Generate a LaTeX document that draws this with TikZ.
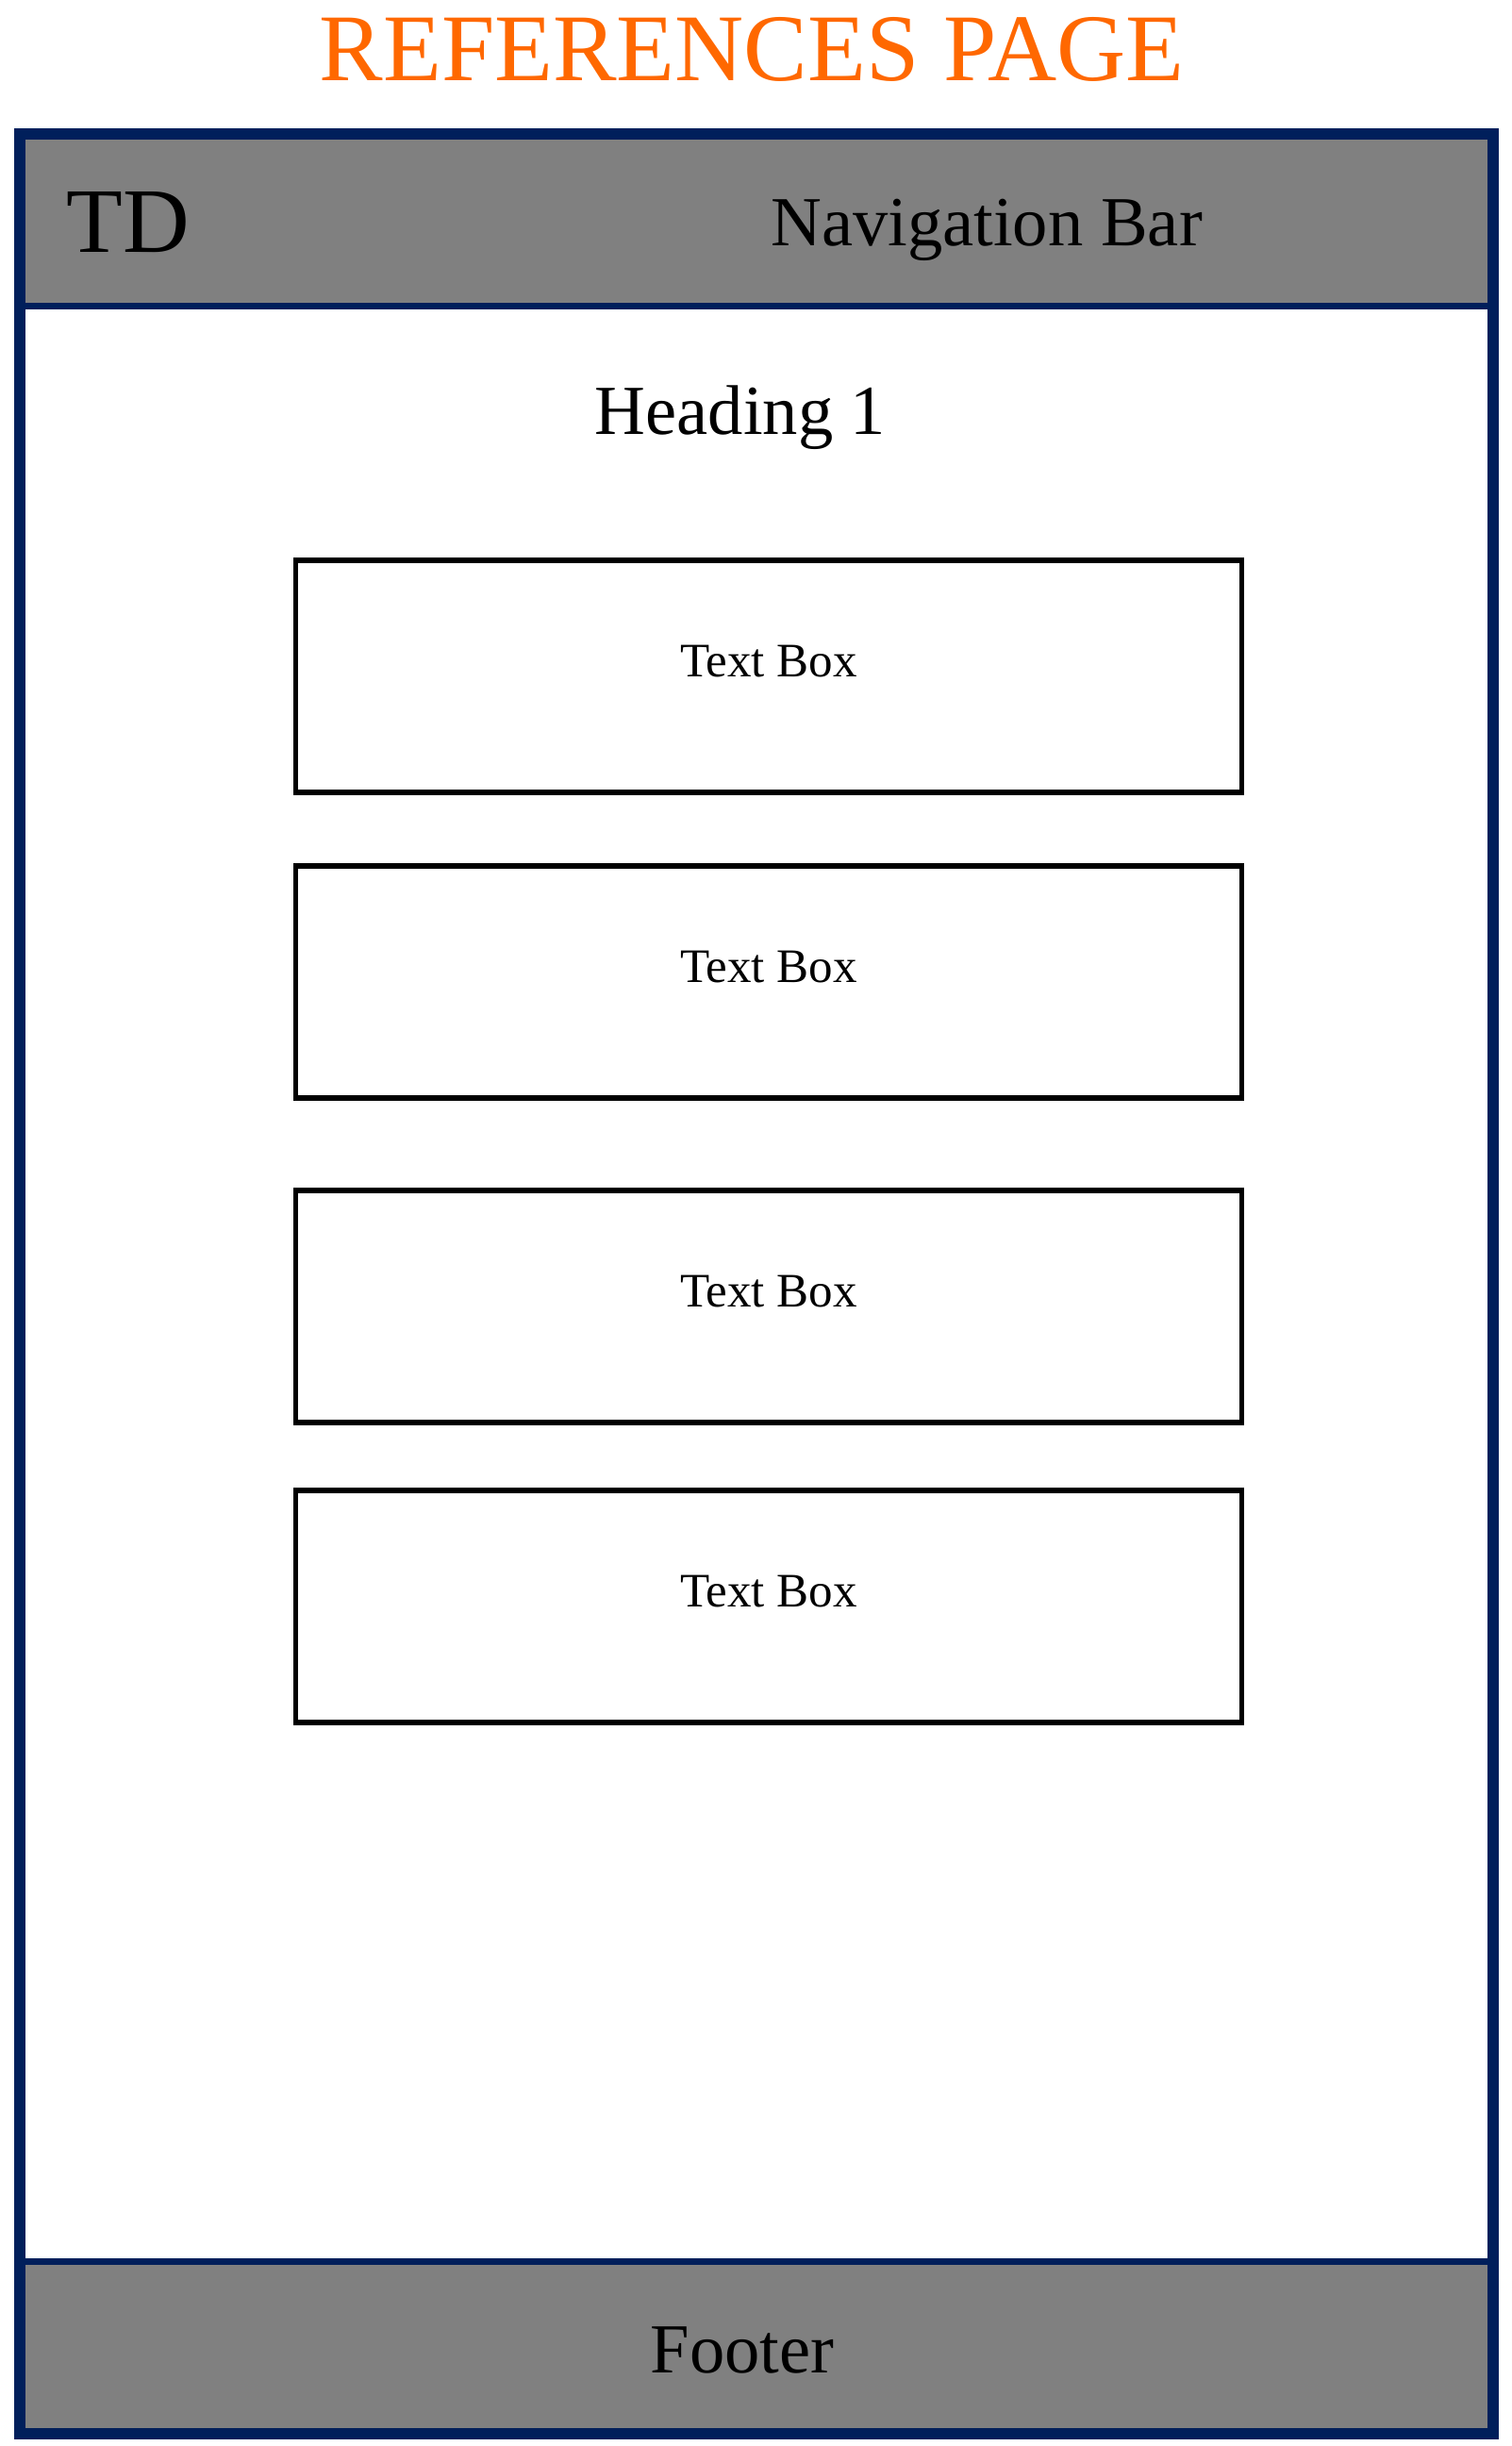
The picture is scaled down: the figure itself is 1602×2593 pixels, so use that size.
\documentclass[tikz,border=0pt]{standalone}
\usepackage{fontspec}
\setmainfont{Liberation Serif}
\usetikzlibrary{positioning,calc}
\definecolor{framenavy}{RGB}{0,31,91}
\definecolor{titleorange}{RGB}{255,104,0}

\begin{document}
\begin{tikzpicture}[x=0.01cm,y=-0.01cm,
  bar/.style={draw=framenavy,line width=0.07cm,fill=gray,minimum width=15.62cm,
    minimum height=1.82cm,inner sep=0pt},
  textbox/.style={draw=black,line width=0.055cm,minimum width=10.02cm,
    minimum height=2.46cm,inner sep=0pt},
  bigtext/.style={font=\fontsize{28.8}{33}\selectfont,inner sep=0pt},
  midtext/.style={font=\fontsize{21.2}{25}\selectfont,inner sep=0pt},
  smalltext/.style={font=\fontsize{14.5}{17}\selectfont,inner sep=0pt}]

  \useasboundingbox[fill=white] (0,0) rectangle (1602,2593);

  % Title
  \node (title) [bigtext,text=titleorange,anchor=base] at (797,85) {REFERENCES PAGE};

  % Bars and frame
  \node (navbar) [bar] at (802,233) {};
  \node (footer) [bar] at (802,2489) {};
  \draw[framenavy,line width=0.12cm] (21,142) rectangle (1583,2580);

  \node (logo) [bigtext,font=\fontsize{27.8}{32}\selectfont,anchor=base west] at (70,267) {TD};
  \node (navtext) [midtext,anchor=base] at (1046,260) {Navigation Bar};
  \node (heading) [midtext,anchor=base] at (785,460) {Heading 1};
  \node (foottext) [midtext,anchor=base] at (787,2515) {Footer};

  % Text boxes
  \foreach \y/\n in {717/1,1041/2,1385/3,1703/4} {
    \node (box\n) [textbox] at (815,\y) {};
    \node (boxtext\n) [smalltext,anchor=base] at (box\n.center) {Text Box};
  }
\end{tikzpicture}
\end{document}
